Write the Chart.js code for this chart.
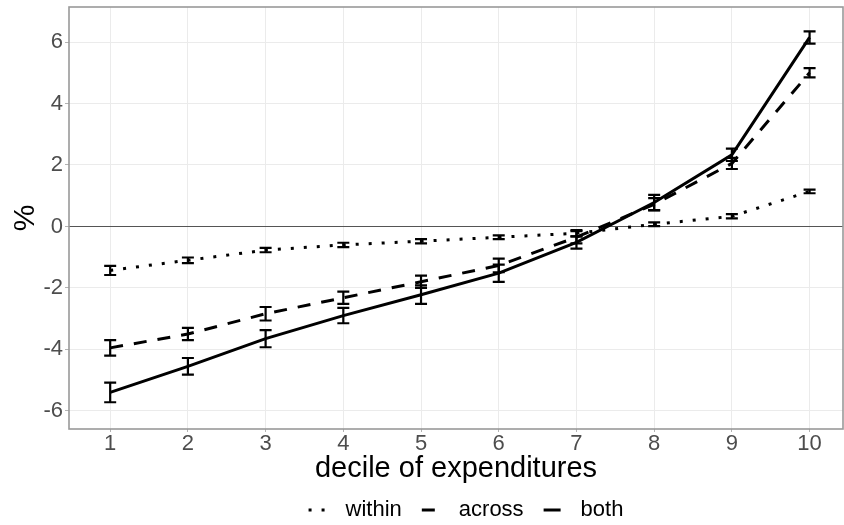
<!DOCTYPE html>
<html>
<head>
<meta charset="utf-8">
<script src="https://cdn.jsdelivr.net/npm/chart.js@4"></script>
<style>
  body { margin: 0; background: #fff; }
  #wrap { width: 844px; height: 525px; }
</style>
</head>
<body>
<div id="wrap"><canvas id="myChart"></canvas></div>
<script>
var deciles = [1, 2, 3, 4, 5, 6, 7, 8, 9, 10];
var yTicks = [-6, -4, -2, 0, 2, 4, 6];

var within = [-1.43, -1.1, -0.77, -0.6, -0.48, -0.35, -0.22, 0.07, 0.33, 1.14];
var withinErr = [0.15, 0.09, 0.07, 0.07, 0.07, 0.06, 0.1, 0.06, 0.07, 0.06];
var across = [-3.95, -3.5, -2.84, -2.32, -1.8, -1.27, -0.35, 0.72, 2.05, 5.0];
var acrossErr = [0.25, 0.2, 0.22, 0.2, 0.2, 0.22, 0.2, 0.2, 0.18, 0.15];
var both = [-5.4, -4.55, -3.65, -2.9, -2.22, -1.52, -0.52, 0.78, 2.33, 6.15];
var bothErr = [0.32, 0.27, 0.28, 0.25, 0.3, 0.28, 0.2, 0.25, 0.2, 0.2];

var FONT = "'Liberation Sans', Arial, sans-serif";

function pts(vals) {
  return deciles.map(function (d, i) { return {x: d, y: vals[i]}; });
}

// error bars and the panel border, placed with the chart's scales
var errorBars = {
  id: 'errorBars',
  afterDatasetsDraw: function (chart) {
    var ctx = chart.ctx, xs = chart.scales.x, ys = chart.scales.y;
    ctx.save();
    ctx.strokeStyle = '#000';
    ctx.lineWidth = 2.2;
    ctx.setLineDash([]);
    chart.data.datasets.forEach(function (ds) {
      ds.data.forEach(function (p, i) {
        var e = ds.err[i];
        var px = xs.getPixelForValue(p.x);
        var top = ys.getPixelForValue(p.y + e);
        var bot = ys.getPixelForValue(p.y - e);
        ctx.beginPath();
        ctx.moveTo(px, top); ctx.lineTo(px, bot);
        ctx.moveTo(px - 6, top); ctx.lineTo(px + 6, top);
        ctx.moveTo(px - 6, bot); ctx.lineTo(px + 6, bot);
        ctx.stroke();
      });
    });
    var a = chart.chartArea;
    ctx.strokeStyle = '#999';
    ctx.lineWidth = 1.6;
    ctx.strokeRect(a.left, a.top, a.right - a.left, a.bottom - a.top);
    ctx.restore();
  }
};

// ggplot-like legend under the x title: short key, label, spacing
var keyLegend = {
  id: 'keyLegend',
  afterDraw: function (chart) {
    var ctx = chart.ctx;
    var keyW = 17, gap = 20, sep = 20, y = 510;
    ctx.save();
    ctx.font = '22px ' + FONT;
    var items = chart.data.datasets.map(function (ds) {
      return {ds: ds, w: ctx.measureText(ds.label).width};
    });
    var total = items.reduce(function (s, it) { return s + keyW + gap + it.w; }, 0) + sep * (items.length - 1);
    var x = 466 - total / 2;
    items.forEach(function (it) {
      ctx.strokeStyle = '#000';
      ctx.lineWidth = it.ds.borderWidth;
      ctx.setLineDash(it.ds.borderDash || []);
      ctx.beginPath();
      ctx.moveTo(x, y); ctx.lineTo(x + keyW, y);
      ctx.stroke();
      ctx.setLineDash([]);
      ctx.fillStyle = '#000';
      ctx.textBaseline = 'middle';
      ctx.fillText(it.ds.label, x + keyW + gap, y);
      x += keyW + gap + it.w + sep;
    });
    ctx.restore();
  }
};

new Chart("myChart", {
  type: "line",
  data: {
    datasets: [{
      label: "within",
      data: pts(within),
      err: withinErr,
      borderColor: "#000",
      borderWidth: 3,
      borderDash: [3, 10],
      pointRadius: 0,
      fill: false
    }, {
      label: "across",
      data: pts(across),
      err: acrossErr,
      borderColor: "#000",
      borderWidth: 3,
      borderDash: [13, 11],
      pointRadius: 0,
      fill: false
    }, {
      label: "both",
      data: pts(both),
      err: bothErr,
      borderColor: "#000",
      borderWidth: 3,
      pointRadius: 0,
      fill: false
    }]
  },
  options: {
    responsive: true,
    maintainAspectRatio: false,
    animation: false,
    layout: {padding: {top: 7, right: 1, left: 0, bottom: 42}},
    plugins: {
      tooltip: {enabled: false},
      legend: {display: false}
    },
    scales: {
      x: {
        type: "linear",
        min: 0.47,
        max: 10.43,
        afterBuildTicks: function (s) { s.ticks = deciles.map(function (v) { return {value: v}; }); },
        afterFit: function (s) { s.height = 54; s.paddingLeft = 0; s.paddingRight = 0; },
        grid: {color: "#ebebeb", lineWidth: 1, tickLength: 3, tickColor: "#b3b3b3"},
        border: {display: false},
        ticks: {color: "#4d4d4d", padding: -1.5, maxRotation: 0, font: {family: FONT, size: 22}},
        title: {display: true, text: "decile of expenditures", color: "#000", padding: {top: 0, bottom: 0},
                font: {family: FONT, size: 29, lineHeight: 1}}
      },
      y: {
        min: -6.59,
        max: 7.14,
        afterBuildTicks: function (s) { s.ticks = yTicks.map(function (v) { return {value: v}; }); },
        afterFit: function (s) { s.width = 69; s.paddingTop = 0; s.paddingBottom = 0; },
        grid: {
          color: function (c) { return c.tick && c.tick.value === 0 ? "#555" : "#ebebeb"; },
          lineWidth: 1, tickLength: 4, tickColor: "#b3b3b3"
        },
        border: {display: false},
        ticks: {color: "#4d4d4d", padding: 2, font: {family: FONT, size: 22}},
        title: {display: true, text: "%", color: "#000", padding: {top: 11, bottom: 0},
                font: {family: FONT, size: 30, lineHeight: 1}}
      }
    }
  },
  plugins: [errorBars, keyLegend]
});
</script>
</body>
</html>
